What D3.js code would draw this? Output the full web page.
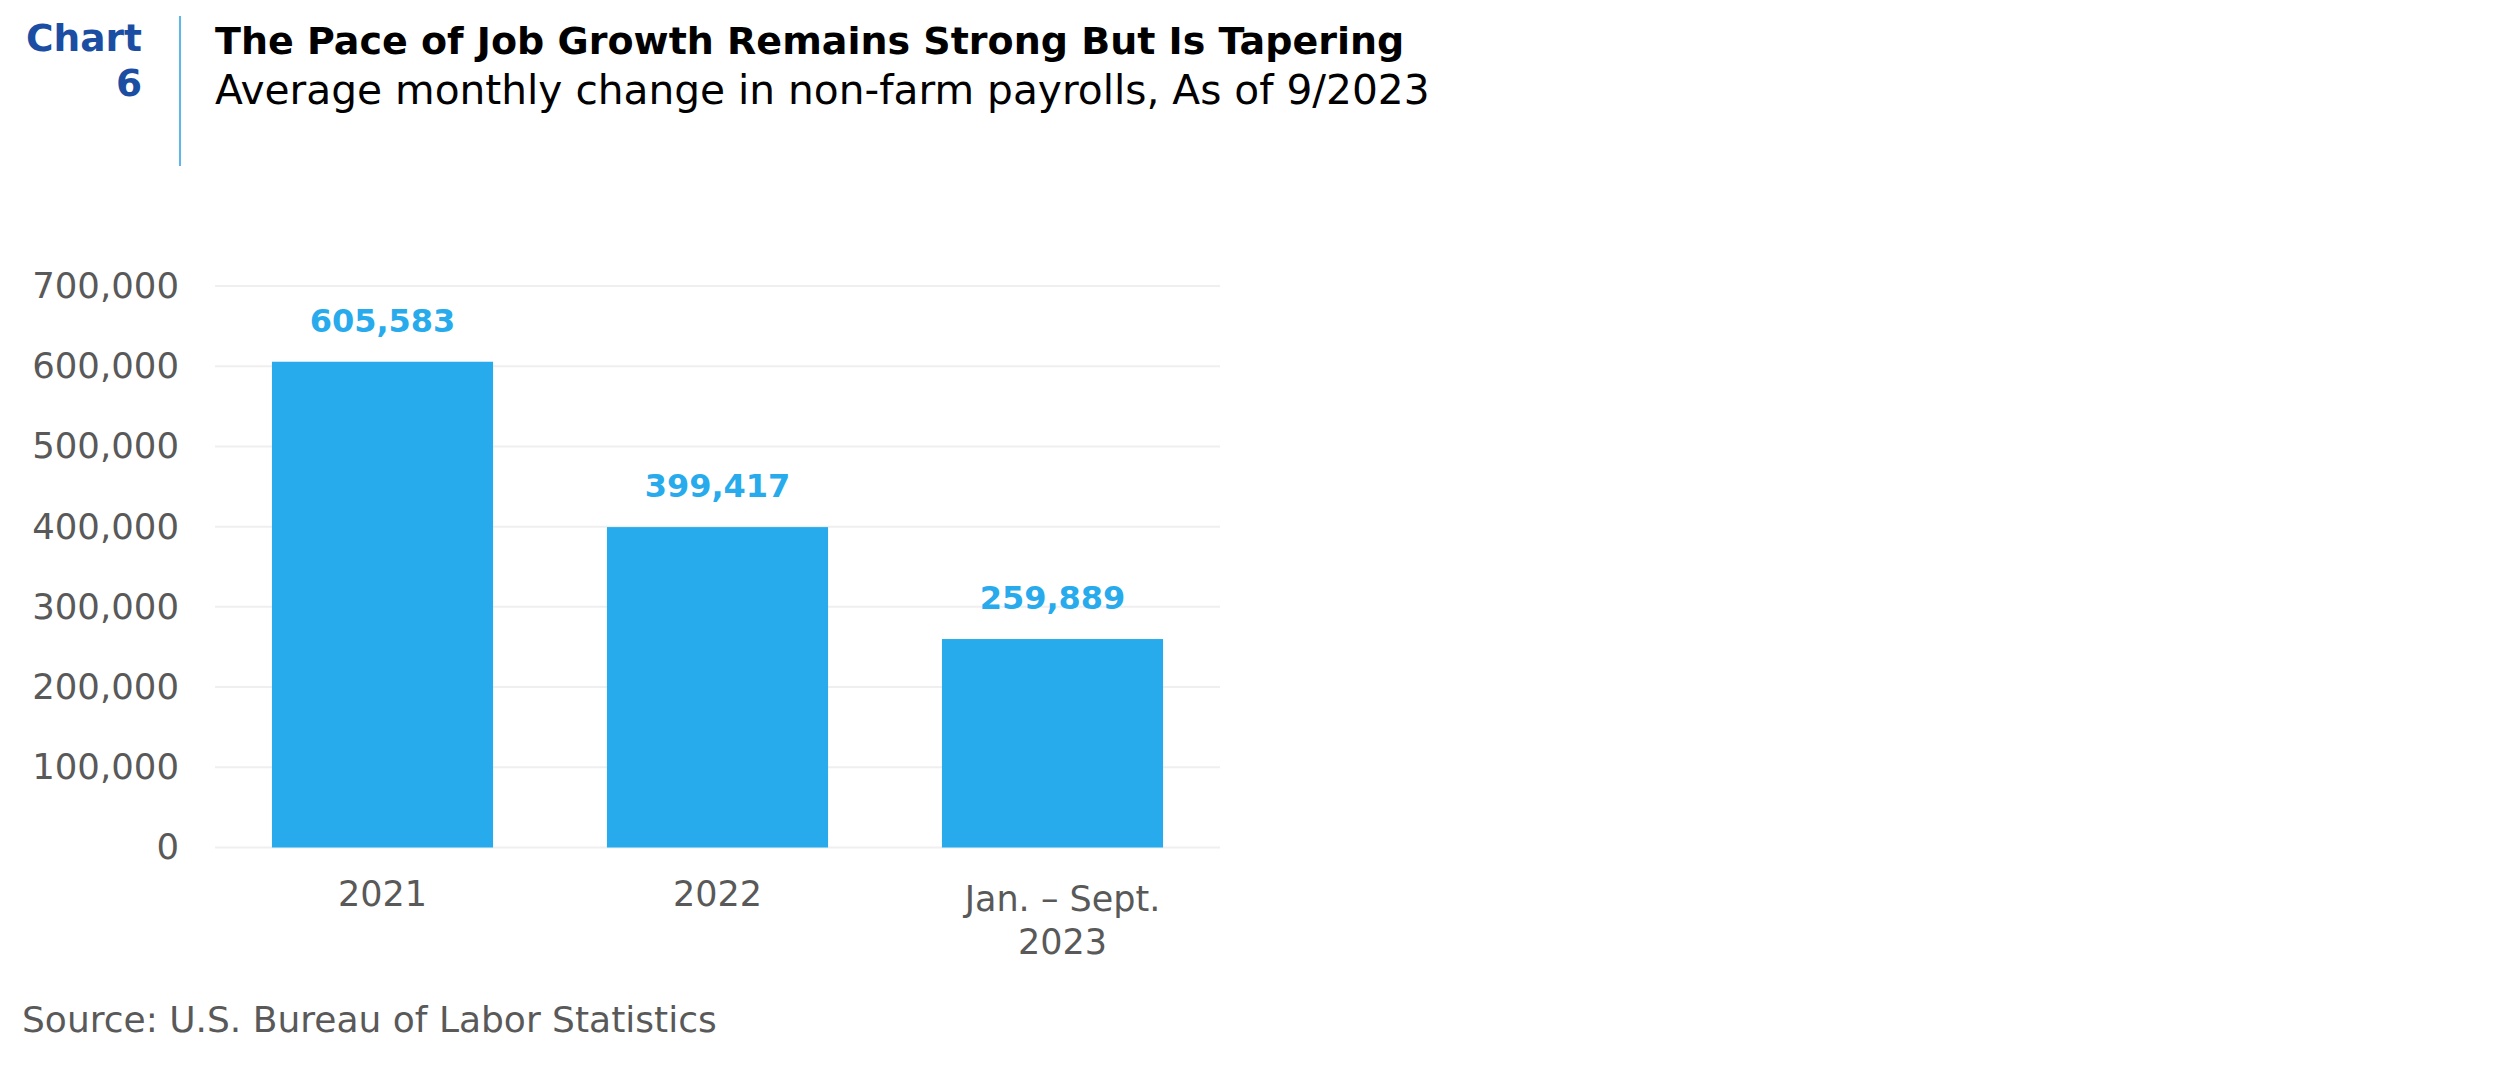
<!DOCTYPE html>
<html>
<head>
<meta charset="utf-8">
<script src="https://cdn.jsdelivr.net/npm/d3@7"></script>
<style>
  body { margin: 0; background: #fff; }
  svg { display: block; font-family: "DejaVu Sans", sans-serif; }
</style>
</head>
<body>
<svg id="chart" width="2498" height="1073"></svg>
<script>
const categories = ["2021", "2022", "Jan. – Sept.\n2023"];
const values = [605583, 399417, 259889];
const yTicks = [0, 100000, 200000, 300000, 400000, 500000, 600000, 700000];

const svg = d3.select("#chart");

const margin = { left: 215, right: 1220, top: 286, bottom: 847.5 };

const x = d3
  .scaleBand()
  .domain(categories)
  .range([margin.left, margin.right])
  .paddingInner(0.34)
  .paddingOuter(0.17);

const y = d3.scaleLinear().domain([0, 700000]).range([margin.bottom, margin.top]);

// header
svg.append("text")
  .attr("x", 142).attr("y", 51)
  .attr("text-anchor", "end")
  .attr("font-size", 37.5).attr("font-weight", "bold")
  .attr("fill", "#1b4ea3")
  .text("Chart");
svg.append("text")
  .attr("x", 142).attr("y", 96)
  .attr("text-anchor", "end")
  .attr("font-size", 37.5).attr("font-weight", "bold")
  .attr("fill", "#1b4ea3")
  .text("6");
svg.append("line")
  .attr("x1", 180).attr("x2", 180)
  .attr("y1", 16).attr("y2", 166)
  .attr("stroke", "#5cb8ea").attr("stroke-width", 2);

svg.append("text")
  .attr("x", 215).attr("y", 54)
  .attr("font-size", 38).attr("font-weight", "bold")
  .attr("fill", "#000")
  .text("The Pace of Job Growth Remains Strong But Is Tapering");
svg.append("text")
  .attr("x", 215).attr("y", 104)
  .attr("font-size", 40.7)
  .attr("fill", "#000")
  .text("Average monthly change in non-farm payrolls, As of 9/2023");

// gridlines
svg.append("g")
  .attr("class", "grid")
  .selectAll("line")
  .data(yTicks)
  .enter()
  .append("line")
  .attr("x1", margin.left)
  .attr("x2", margin.right)
  .attr("y1", (d) => y(d))
  .attr("y2", (d) => y(d))
  .attr("stroke", "#efefef")
  .attr("stroke-width", 2);

// y axis labels
const yAxis = d3.axisLeft(y)
  .tickValues(yTicks)
  .tickFormat(d3.format(","))
  .tickSize(0)
  .tickPadding(36);

svg.append("g")
  .attr("transform", `translate(${margin.left},0)`)
  .call(yAxis)
  .call((g) => g.select(".domain").remove())
  .call((g) => g.selectAll("text")
    .attr("font-family", "DejaVu Sans")
    .attr("font-size", 35.5)
    .attr("fill", "#595959"));

// bars
svg.append("g")
  .selectAll("rect")
  .data(values)
  .enter()
  .append("rect")
  .attr("x", (d, i) => x(categories[i]))
  .attr("width", x.bandwidth())
  .attr("y", (d) => y(d))
  .attr("height", (d) => y(0) - y(d))
  .attr("fill", "#27abec");

// value labels
svg.append("g")
  .selectAll("text")
  .data(values)
  .enter()
  .append("text")
  .attr("x", (d, i) => x(categories[i]) + x.bandwidth() / 2)
  .attr("y", (d) => y(d) - 30)
  .attr("text-anchor", "middle")
  .attr("font-size", 32)
  .attr("font-weight", "bold")
  .attr("fill", "#27abec")
  .text((d) => d3.format(",")(d));

// category labels
const xl = svg.append("g")
  .selectAll("text")
  .data(categories)
  .enter()
  .append("text")
  .attr("text-anchor", "middle")
  .attr("font-size", 35)
  .attr("fill", "#595959")
  .attr("transform", (d) => {
    const lines = d.split("\n");
    const cx = x(d) + x.bandwidth() / 2 + (lines.length > 1 ? 10 : 0);
    return `translate(${cx},${lines.length > 1 ? 910.7 : 906})`;
  });

xl.selectAll("tspan")
  .data((d) => d.split("\n"))
  .enter()
  .append("tspan")
  .attr("x", 0)
  .attr("dy", (d, i) => (i === 0 ? 0 : 43.3))
  .text((d) => d);

svg.append("text")
  .attr("x", 22).attr("y", 1032)
  .attr("font-size", 36)
  .attr("fill", "#595959")
  .text("Source: U.S. Bureau of Labor Statistics");
</script>
</body>
</html>
